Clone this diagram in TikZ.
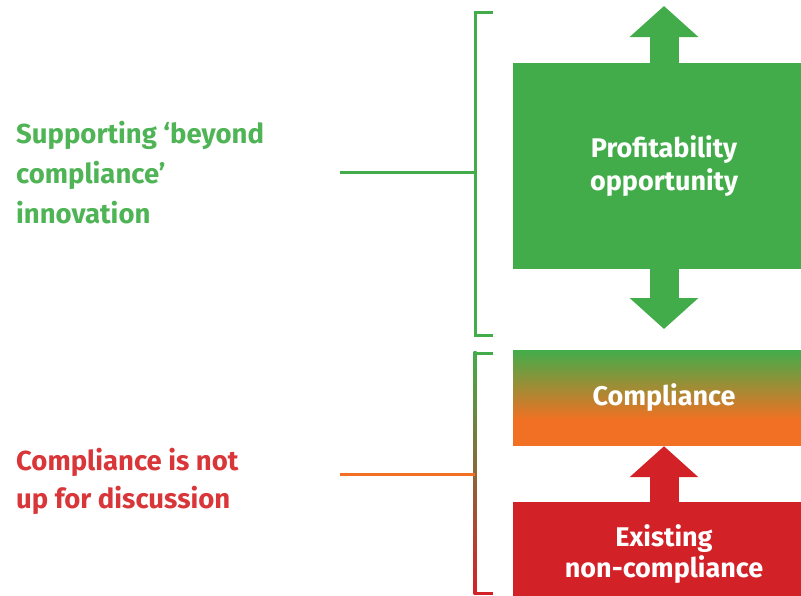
\documentclass[tikz,border=0pt]{standalone}
\usepackage{fontspec}
\setmainfont{Fira Sans}
\usetikzlibrary{arrows.meta,calc}
\definecolor{cgreen}{HTML}{43AC4A}
\definecolor{corange}{HTML}{F27023}
\definecolor{cred}{HTML}{D32128}
\definecolor{cgreentext}{HTML}{4FB455}
\definecolor{credtext}{HTML}{D9363A}
\begin{document}
\begin{tikzpicture}[x=1pt,y=-1pt,
  box/.style={minimum width=302pt, inner sep=0pt, text=white, align=center,
    font=\bfseries\fontsize{27}{33}\selectfont},
  lbl/.style={anchor=west, align=left, inner sep=0pt},
  bracket/.style={line width=3pt},
  blockarrow/.style={line width=29pt, -{Triangle[width=67pt,length=31pt]}}]
\useasboundingbox (0,0) rectangle (801,595);
\clip (0,0) rectangle (801,595);
% boxes
\node[box, fill=cgreen, minimum height=206pt] (prof) at (664,166) {Profitability\\opportunity};
\node[box, minimum height=96pt,
  path picture={\fill[corange] (path picture bounding box.south west) rectangle (path picture bounding box.north east);
    \shade[top color=cgreen, bottom color=corange] (path picture bounding box.north west) rectangle ($(path picture bounding box.east)+(0pt,-22pt)$);}]
  (comp) at (664,398) {Compliance};
\node[box, fill=cred, minimum height=105pt, font=\bfseries\fontsize{27}{31}\selectfont] (exist) at (664,554.5) {Existing\\non-compliance};
% block arrows
\coordinate (toptip) at (664,6);
\coordinate (bottip) at (664,329);
\draw[blockarrow, cgreen] (prof.north) -- (toptip);
\draw[blockarrow, cgreen] (prof.south) -- (bottip);
\draw[blockarrow, cred] (exist.north) -- (comp.south);
% top bracket
\coordinate (b1a) at (493,12);
\coordinate (b1b) at (475,12);
\coordinate (b1c) at (475,335);
\coordinate (b1d) at (493,335);
\coordinate (b1m) at (475,172);
\coordinate (l1) at (340,172);
\draw[bracket, cgreen] (b1a) -- (b1b) -- (b1c) -- (b1d);
\draw[bracket, cgreen] (l1) -- (b1m);
% bottom bracket
\coordinate (b2a) at (493,353);
\coordinate (b2b) at (475,353);
\coordinate (b2c) at (475,593);
\coordinate (b2d) at (493,593);
\coordinate (b2m) at (475,474);
\coordinate (l2) at (340,474);
\shade[top color=cgreen, middle color=corange, bottom color=cred] (473.5,351.5) rectangle (476.5,594.5);
\draw[bracket, cgreen] (b2a) -- ($(b2b)+(-1.5pt,0)$);
\draw[bracket, cred] (b2d) -- ($(b2c)+(-1.5pt,0)$);
\draw[bracket, corange] (l2) -- (b2m);
% labels
\node[lbl, text=cgreentext, font=\bfseries\fontsize{27.5}{40}\selectfont] (sup) at (16,173) {Supporting ‘beyond\\compliance’\\innovation};
\node[lbl, text=credtext, font=\bfseries\fontsize{27.5}{38}\selectfont] (cin) at (16,481) {Compliance is not\\up for discussion};
\end{tikzpicture}
\end{document}
